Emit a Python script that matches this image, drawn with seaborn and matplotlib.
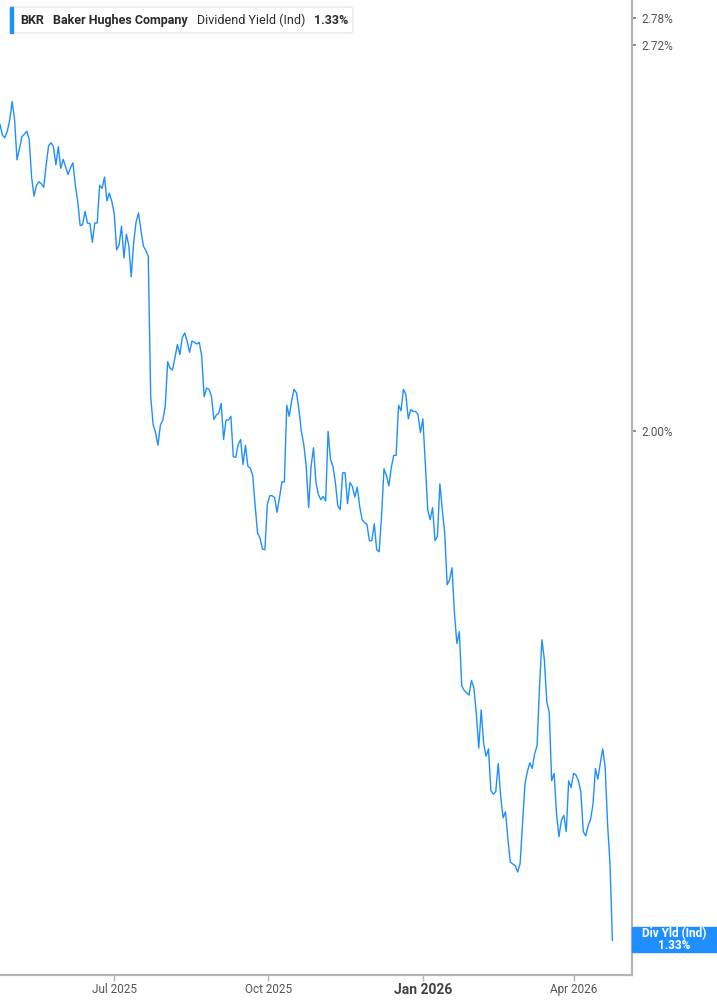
"""
BKR dividend yield chart (log scale, right-hand axis).
"""

import numpy as np
import pandas as pd
import matplotlib.pyplot as plt
import seaborn as sns
from matplotlib.patches import Rectangle, FancyBboxPatch
from matplotlib.text import Annotation
from matplotlib.ticker import NullLocator

# ---- data ----
start_date = "2025-04-24"
end_date = "2026-04-24"

div_yield = [
    2.554, 2.532, 2.527, 2.540, 2.563, 2.601, 2.563, 2.483, 2.505, 2.529,
    2.534, 2.540, 2.524, 2.449, 2.412, 2.433, 2.440, 2.436, 2.429, 2.473,
    2.511, 2.517, 2.509, 2.473, 2.509, 2.466, 2.484, 2.469, 2.454, 2.467,
    2.477, 2.433, 2.401, 2.356, 2.358, 2.383, 2.361, 2.360, 2.325, 2.361,
    2.361, 2.433,
    2.427, 2.449, 2.403, 2.418, 2.402, 2.379, 2.311, 2.320, 2.355, 2.296,
    2.340, 2.319, 2.262, 2.324, 2.363, 2.380, 2.347, 2.318, 2.310, 2.299,
    2.057, 2.011, 1.998, 1.978, 2.010, 2.018, 2.041, 2.114, 2.103, 2.100,
    2.121, 2.143, 2.126, 2.155, 2.163, 2.149, 2.130, 2.149, 2.147, 2.144,
    2.147, 2.123,
    2.056, 2.070, 2.068, 2.057, 2.019, 2.026, 2.029, 2.045, 1.987, 2.018,
    2.018, 2.024, 1.960, 1.959, 1.979, 1.987, 1.948, 1.978, 1.945, 1.942,
    1.931, 1.884, 1.844, 1.837, 1.821, 1.820, 1.887, 1.900, 1.900, 1.897,
    1.875, 1.897, 1.921, 1.921, 2.042, 2.024, 2.049, 2.068, 2.062, 2.035,
    2.000, 1.979, 1.945, 1.882, 1.945, 1.974, 1.920, 1.902, 1.894, 1.899,
    1.892, 2.000, 1.956, 1.945, 1.920, 1.885, 1.879, 1.935, 1.935, 1.888,
    1.920, 1.914, 1.898, 1.913, 1.884, 1.864, 1.860, 1.857, 1.833, 1.833,
    1.858, 1.820, 1.817, 1.869, 1.941, 1.931, 1.915, 1.943, 1.962, 1.962,
    2.042, 2.033, 2.068, 2.060, 2.020, 2.035, 2.032,
    2.032, 2.027, 1.998, 2.020, 1.950, 1.879, 1.864, 1.882, 1.833, 1.840,
    1.918, 1.879, 1.844, 1.770, 1.777, 1.794, 1.730, 1.689, 1.705, 1.633,
    1.627, 1.624, 1.621, 1.640, 1.630, 1.597, 1.554, 1.602, 1.560, 1.544,
    1.553, 1.502, 1.498, 1.501, 1.535, 1.496, 1.470, 1.477, 1.445, 1.419,
    1.417, 1.415, 1.408,
    1.417, 1.463, 1.510, 1.525, 1.536, 1.529, 1.547, 1.557, 1.632, 1.694,
    1.667, 1.612, 1.599, 1.514, 1.523, 1.475, 1.448, 1.467, 1.473, 1.454,
    1.514, 1.506, 1.523, 1.521, 1.514, 1.501, 1.454, 1.449, 1.461, 1.468,
    1.486, 1.529, 1.516, 1.535, 1.553, 1.531, 1.463, 1.417, 1.333,
]

y_ticks = [2.00, 2.72, 2.78]
y_tick_labels = ["2.00%", "2.72%", "2.78%"]
x_ticks = ["2025-07-01", "2025-10-01", "2026-01-01", "2026-04-01"]
x_tick_labels = ["Jul 2025", "Oct 2025", "Jan 2026", "Apr 2026"]

ticker = "BKR"
company = "Baker Hughes Company"
metric = "Dividend Yield (Ind)"
latest = "1.33%"
badge_label = "Div Yld (Ind)"

BLUE = "#1f8fff"
SPINE = "#b5b5b5"

dates = pd.date_range(start_date, end_date, periods=len(div_yield))
df = pd.DataFrame({"date": dates, "yield": div_yield})

sns.set_style("white")
plt.rcParams["font.family"] = ["Roboto", "DejaVu Sans"]

W, H = 717, 1005
fig = plt.figure(figsize=(W / 100, H / 100), dpi=100)
ax = fig.add_axes([0, 30 / H, 632 / W, 975 / H])

sns.lineplot(data=df, x="date", y="yield", ax=ax, color=BLUE, linewidth=1.0)

ax.set_yscale("log")
ax.set_ylim(1.297, 2.82)
ax.set_xlim(pd.Timestamp(start_date), pd.Timestamp("2026-05-05 16:00"))

for side in ["left", "top"]:
    ax.spines[side].set_visible(False)
for side in ["right", "bottom"]:
    ax.spines[side].set_visible(True)
    ax.spines[side].set_color(SPINE)
    ax.spines[side].set_linewidth(1.6)

ax.yaxis.tick_right()
ax.set_yticks(y_ticks, y_tick_labels)
ax.yaxis.set_minor_locator(NullLocator())
ax.tick_params(axis="y", which="major", right=True, left=False, direction="out",
               length=3, width=1.2, color="#777777", labelcolor="#555555",
               labelsize=8.5, pad=4)

ax.set_xticks(pd.to_datetime(x_ticks), x_tick_labels)
ax.xaxis.set_minor_locator(NullLocator())
ax.tick_params(axis="x", bottom=True, direction="out", length=4, width=1,
               color=SPINE, labelcolor="#555555", labelsize=8.5, pad=2)
jan = ax.get_xticklabels()[2]
jan.set_fontweight("bold")
jan.set_fontsize(10)
jan.set_color("#444444")

ax.set_xlabel("")
ax.set_ylabel("")
ax.grid(False)

# header box (top-left)
box = FancyBboxPatch((10 / W, 1 - 33 / H), 343 / W, 26 / H,
                     boxstyle="round,pad=0,rounding_size=0.003",
                     facecolor="white", edgecolor="#e2e2e2", linewidth=0.8,
                     transform=fig.transFigure, zorder=5)
fig.add_artist(box)
fig.add_artist(Rectangle((10 / W, 1 - 33 / H), 3 / W, 26 / H, color=BLUE,
                         transform=fig.transFigure, zorder=6))

t = fig.text(20 / W, 1 - 20.5 / H, ticker, fontsize=9, fontweight="bold",
             color="#2b2b2b", va="center", zorder=7)
for txt, weight in [(company, "bold"), (metric, "normal"), (latest, "bold")]:
    t = fig.add_artist(Annotation(txt, xy=(1, 0.5), xycoords=t,
                                  xytext=(6.5, 0), textcoords="offset points",
                                  va="center", ha="left", fontsize=9,
                                  fontweight=weight, color="#2b2b2b",
                                  annotation_clip=False, zorder=7))

# last-value badge on the right axis
fig.add_artist(Rectangle((632 / W, 1 - 952 / H), 85 / W, 25 / H, color=BLUE,
                         transform=fig.transFigure, zorder=6))
fig.text(674 / W, 1 - 939.5 / H, f"{badge_label}\n{latest}", ha="center",
         va="center", fontsize=8.5, fontweight="bold", color="white",
         linespacing=0.95, zorder=7)

fig.savefig("out.png", dpi=100)
